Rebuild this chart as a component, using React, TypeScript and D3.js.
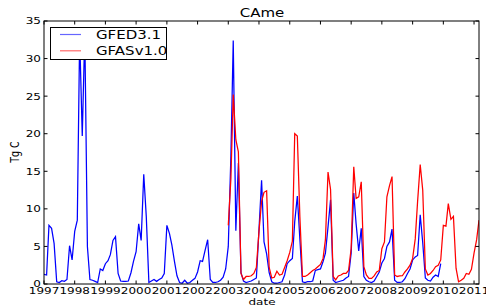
import React from 'react';
import * as d3 from 'd3';

const W = 486;
const H = 306;

// monthly emissions, Tg C
const gfedStart = [1997, 0];
const gfedValues = [
  1.3, 1.2, 7.8, 7.4, 5.4, 0.3, 0.2, 0.45, 0.35, 0.6, 5.1, 3.2, // 1997
  7.0, 8.5, 33.0, 19.7, 33.5, 5.0, 0.6, 0.5, 0.35, 0.2, 2.0, 1.8, // 1998
  2.7, 3.1, 3.9, 5.8, 6.3, 1.4, 0.4, 0.35, 0.35, 0.4, 1.5, 3.0, // 1999
  4.3, 8.0, 5.8, 14.6, 9.0, 0.2, 0.4, 0.6, 0.35, 0.6, 0.8, 1.4, // 2000
  7.8, 6.7, 5.2, 3.0, 1.1, 0.2, 0.1, 0.5, 0.1, 0.2, 0.5, 0.75, // 2001
  1.6, 3.1, 3.0, 4.5, 5.9, 0.6, 0.2, 0.2, 0.3, 0.5, 0.9, 2.0, // 2002
  5.0, 17.0, 32.4, 7.1, 16.1, 1.5, 0.4, 0.2, 0.3, 0.4, 0.6, 0.8, // 2003
  7.2, 13.8, 5.6, 4.0, 1.5, 0.3, 0.1, 0.1, 0.2, 0.3, 1.2, 2.7, // 2004
  3.1, 3.4, 8.3, 11.7, 6.0, 0.3, 0.2, 0.3, 0.3, 0.4, 1.8, 1.9, // 2005
  2.0, 3.0, 4.1, 7.6, 11.2, 0.5, 0.2, 0.3, 0.4, 0.5, 0.8, 1.0, // 2006
  4.1, 12.1, 8.0, 4.4, 7.4, 1.0, 0.5, 0.3, 0.2, 0.4, 1.0, 1.6, // 2007
  2.8, 3.4, 5.0, 5.6, 7.3, 0.5, 0.2, 0.2, 0.3, 0.7, 1.4, 2.0, // 2008
  3.2, 3.6, 3.8, 9.2, 5.5, 0.8, 0.5, 0.4, 0.9, 1.2, 1.0, 2.7, // 2009
];

const gfasStart = [2003, 0];
const gfasValues = [
  7.8, 14.0, 25.2, 19.2, 17.6, 1.4, 0.6, 1.0, 1.0, 1.1, 1.4, 2.2, // 2003
  7.0, 11.0, 12.2, 12.4, 2.2, 0.8, 0.9, 1.7, 1.2, 1.3, 2.2, 3.1, // 2004
  4.2, 5.7, 20.0, 19.7, 9.0, 1.0, 1.0, 1.2, 1.5, 1.8, 2.0, 2.3, // 2005
  2.6, 3.4, 5.9, 14.9, 12.6, 1.0, 0.55, 1.07, 1.2, 1.4, 1.4, 1.8, // 2006
  4.7, 15.6, 11.4, 11.6, 13.6, 2.3, 1.2, 0.75, 0.75, 1.07, 1.6, 1.8, // 2007
  4.7, 5.6, 11.6, 13.1, 14.3, 1.2, 1.0, 1.07, 1.1, 1.6, 2.0, 2.5, // 2008
  3.4, 6.0, 11.0, 15.9, 12.5, 2.0, 1.2, 1.4, 1.8, 2.3, 2.5, 3.2, // 2009
  7.8, 7.7, 10.7, 8.6, 9.0, 2.1, 0.3, 0.5, 0.75, 1.4, 1.3, 1.95, // 2010
  4.1, 5.9, 8.5, // 2011
];

const seriesNames = ['GFED3.1', 'GFASv1.0'];
const seriesColors = ['#0000ff', '#ff0000'];
const yearTicks = [1997, 1998, 1999, 2000, 2001, 2002, 2003, 2004, 2005, 2006, 2007, 2008, 2009, 2010, 2011];
const yTicks = [0, 5, 10, 15, 20, 25, 30, 35];

const left = 44;
const right = 479;
const top = 21;
const bottom = 284;
const font = 'DejaVu Sans, sans-serif';
// the reference image is squashed vertically, text included
const small = { size: 12, sq: 0.79 };
const big = { size: 15, sq: 0.76 };

function toPoints(start, values) {
  return values.map((v, i) => ({ date: new Date(start[0], start[1] + i, 1), value: v }));
}

function SText({ x, y, rotate, kind, children, ...rest }) {
  const t = `translate(${x},${y}) scale(1,${kind.sq})` + (rotate ? ` rotate(${rotate})` : '');
  return (
    <g transform={t}>
      <text fontFamily={font} fontSize={kind.size} {...rest}>
        {children}
      </text>
    </g>
  );
}

export default function App() {
  const x = d3
    .scaleTime()
    .domain([new Date(1997, 0, 1), new Date(2011, 2, 1)])
    .range([left, right]);
  const y = d3.scaleLinear().domain([0, 35]).range([bottom, top]);

  const line = d3
    .line<{ date: Date; value: number }>()
    .x((d) => x(d.date))
    .y((d) => y(d.value));

  const series = [toPoints(gfedStart, gfedValues), toPoints(gfasStart, gfasValues)];

  return (
    <svg
      width={W}
      height={H}
      style={{ position: 'absolute', left: 0, top: 0, background: '#fff' }}
    >
      <defs>
        <clipPath id="plotArea">
          <rect x={left} y={top} width={right - left} height={bottom - top} />
        </clipPath>
      </defs>

      <g clipPath="url(#plotArea)">
        {series.map((pts, i) => (
          <path
            key={seriesNames[i]}
            d={line(pts)}
            fill="none"
            stroke={seriesColors[i]}
            strokeWidth={1.25}
            strokeLinejoin="miter"
          />
        ))}
      </g>

      {/* frame */}
      <rect
        x={left}
        y={top}
        width={right - left}
        height={bottom - top}
        fill="none"
        stroke="#000"
        strokeWidth={1}
      />

      {/* ticks point inward, on all four sides */}
      {yearTicks.map((yr) => {
        const tx = x(new Date(yr, 0, 1));
        return (
          <g key={yr}>
            <line x1={tx} x2={tx} y1={bottom} y2={bottom - 3.5} stroke="#000" />
            <line x1={tx} x2={tx} y1={top} y2={top + 3.5} stroke="#000" />
            <SText x={tx} y={294} kind={small} textAnchor="middle">
              {yr}
            </SText>
          </g>
        );
      })}
      {yTicks.map((t) => {
        const ty = y(t);
        return (
          <g key={t}>
            <line x1={left} x2={left + 3.5} y1={ty} y2={ty} stroke="#000" />
            <line x1={right} x2={right - 3.5} y1={ty} y2={ty} stroke="#000" />
            <SText x={41} y={ty + 3.4} kind={small} textAnchor="end">
              {t}
            </SText>
          </g>
        );
      })}

      <SText x={262} y={17.3} kind={big} textAnchor="middle">
        CAme
      </SText>
      <SText x={262} y={304.5} kind={small} textAnchor="middle">
        date
      </SText>
      <SText x={19} y={152} kind={small} textAnchor="middle" rotate={-90}>
        Tg C
      </SText>

      {/* legend */}
      <rect x={50.5} y={27.5} width={116} height={32} fill="#fff" stroke="#000" strokeWidth={1} />
      {seriesNames.map((name, i) => {
        const ly = 34.5 + i * 16.3;
        return (
          <g key={name}>
            <line x1={60} x2={81} y1={ly} y2={ly} stroke={seriesColors[i]} strokeOpacity={0.6} strokeWidth={1.2} />
            <SText x={96} y={ly + 4.1} kind={big}>
              {name}
            </SText>
          </g>
        );
      })}
    </svg>
  );
}
